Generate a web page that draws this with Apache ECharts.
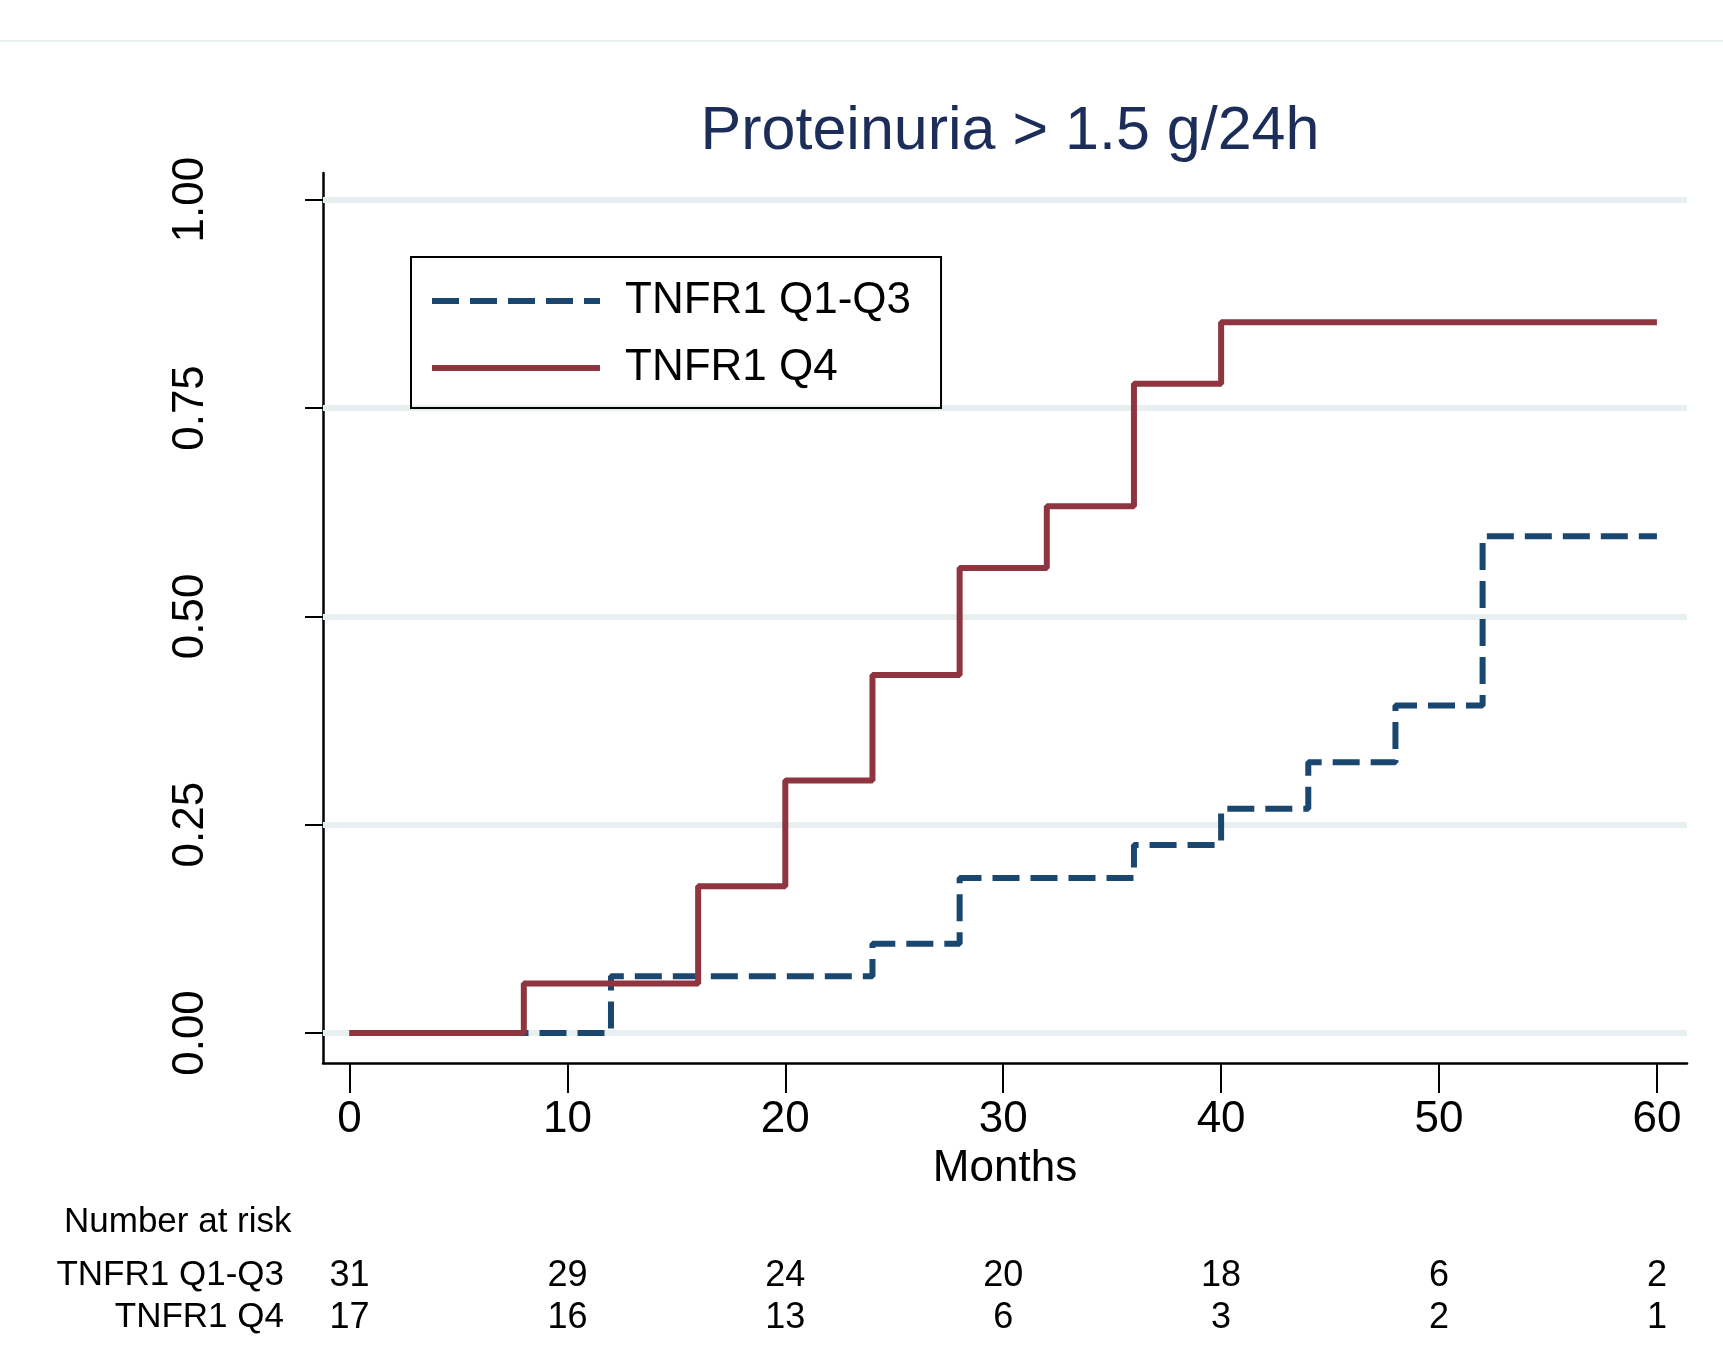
<!DOCTYPE html>
<html>
<head>
<meta charset="utf-8">
<script src="https://cdn.jsdelivr.net/npm/echarts@6/dist/echarts.min.js"></script>
<style>
html,body{margin:0;padding:0;background:#fff;}
#chart{width:1723px;height:1359px;}
</style>
</head>
<body>
<div id="chart"></div>
<script>
// ---- data ----
const titleText = 'Proteinuria > 1.5 g/24h';
const seriesNames = ['TNFR1 Q1-Q3', 'TNFR1 Q4'];
const xTicks = [0, 10, 20, 30, 40, 50, 60];
const yTicks = [0, 0.25, 0.5, 0.75, 1];
// step points [months, failure]
const q13Steps = [[0,0],[12,0.068],[24,0.107],[28,0.186],[36,0.2255],[40,0.269],[44,0.325],[48,0.393],[52,0.596],[60,0.596]];
const q4Steps  = [[0,0],[8,0.0594],[16,0.176],[20,0.303],[24,0.4295],[28,0.558],[32,0.632],[36,0.779],[40,0.853],[60,0.853]];
const riskQ13 = [31, 29, 24, 20, 18, 6, 2];
const riskQ4  = [17, 16, 13, 6, 3, 2, 1];

const FONT = '"Liberation Sans", Arial, sans-serif';
const XMIN = -1.216, XMAX = 61.38, YMIN = -0.036, YMAX = 1.032;
const DASH = [27, 11];

function riskAxis(values, offset) {
  return {
    type: 'value', min: XMIN, max: XMAX, position: 'bottom', offset: offset,
    axisLine: {show: false}, axisTick: {show: false}, splitLine: {show: false},
    axisLabel: {
      customValues: xTicks, margin: 0, verticalAlign: 'middle',
      fontFamily: FONT, fontSize: 36, color: '#000',
      formatter: v => { const i = xTicks.indexOf(Math.round(v)); return i >= 0 ? String(values[i]) : ''; }
    }
  };
}

const chart = echarts.init(document.getElementById('chart'));
chart.setOption({
  animation: false,
  backgroundColor: '#fff',
  title: {
    text: titleText, left: 1005, top: 97, textAlign: 'center',
    textStyle: {fontFamily: FONT, fontSize: 61, fontWeight: 'normal', color: '#1c2d5a'}
  },
  grid: {left: 323, right: 36, top: 173, bottom: 296},
  legend: {
    orient: 'vertical', left: 411, top: 257,
    data: [
      {name: seriesNames[0], lineStyle: {width: 6, type: DASH, color: '#1a476f'}},
      {name: seriesNames[1], lineStyle: {width: 6, type: 'solid', color: '#8f3540'}}
    ],
    borderColor: '#000', borderWidth: 2,
    padding: [22, 30, 18, 18],
    itemWidth: 168, itemHeight: 30, itemGap: 23,
    itemStyle: {opacity: 0},
    textStyle: {fontFamily: FONT, fontSize: 44, color: '#000', padding: [0, 0, 0, 20]}
  },
  xAxis: [
    {
      type: 'value', min: XMIN, max: XMAX,
      name: 'Months', nameLocation: 'middle', nameGap: 66,
      nameTextStyle: {fontFamily: FONT, fontSize: 44, color: '#000'},
      axisLine: {show: true, onZero: false, lineStyle: {color: '#000', width: 2.5}},
      axisTick: {show: true, customValues: xTicks, length: 30, lineStyle: {color: '#000', width: 2}},
      axisLabel: {customValues: xTicks, margin: 35, fontFamily: FONT, fontSize: 44, color: '#000'},
      splitLine: {show: false}
    },
    riskAxis(riskQ13, 213),
    riskAxis(riskQ4, 255)
  ],
  yAxis: {
    type: 'value', min: YMIN, max: YMAX,
    axisLine: {show: true, onZero: false, lineStyle: {color: '#000', width: 2.5}},
    axisTick: {show: true, customValues: yTicks, length: 18, lineStyle: {color: '#000', width: 2}},
    axisLabel: {
      customValues: yTicks, rotate: 90, margin: 110,
      fontFamily: FONT, fontSize: 44, color: '#000',
      formatter: v => v.toFixed(2)
    },
    splitLine: {show: false}
  },
  series: [
    {
      name: seriesNames[0], type: 'line', step: 'end', data: q13Steps,
      xAxisIndex: 0, yAxisIndex: 0,
      showSymbol: false, symbol: 'none', z: 3,
      itemStyle: {color: '#1a476f'},
      lineStyle: {color: '#1a476f', width: 6, type: DASH, cap: 'butt'},
      markLine: {
        silent: true, symbol: 'none', z: 1,
        label: {show: false},
        lineStyle: {color: '#e8eff1', width: 6, type: 'solid'},
        data: yTicks.map(v => ({yAxis: v}))
      }
    },
    {
      name: seriesNames[1], type: 'line', step: 'end', data: q4Steps,
      xAxisIndex: 0, yAxisIndex: 0,
      showSymbol: false, symbol: 'none', z: 4,
      itemStyle: {color: '#8f3540'},
      lineStyle: {color: '#8f3540', width: 6, type: 'solid'}
    }
  ],
  graphic: [
    {type: 'line', shape: {x1: 0, y1: 41, x2: 1723, y2: 41}, style: {stroke: '#e9eef0', lineWidth: 2}},
    {type: 'text', left: 64, top: 1205, style: {text: 'Number at risk', font: '35px ' + FONT, fill: '#000'}},
    {type: 'text', right: 1723 - 284, top: 1258, style: {text: seriesNames[0], font: '35px ' + FONT, fill: '#000', textAlign: 'right'}},
    {type: 'text', right: 1723 - 284, top: 1300, style: {text: seriesNames[1], font: '35px ' + FONT, fill: '#000', textAlign: 'right'}}
  ]
});
</script>
</body>
</html>
